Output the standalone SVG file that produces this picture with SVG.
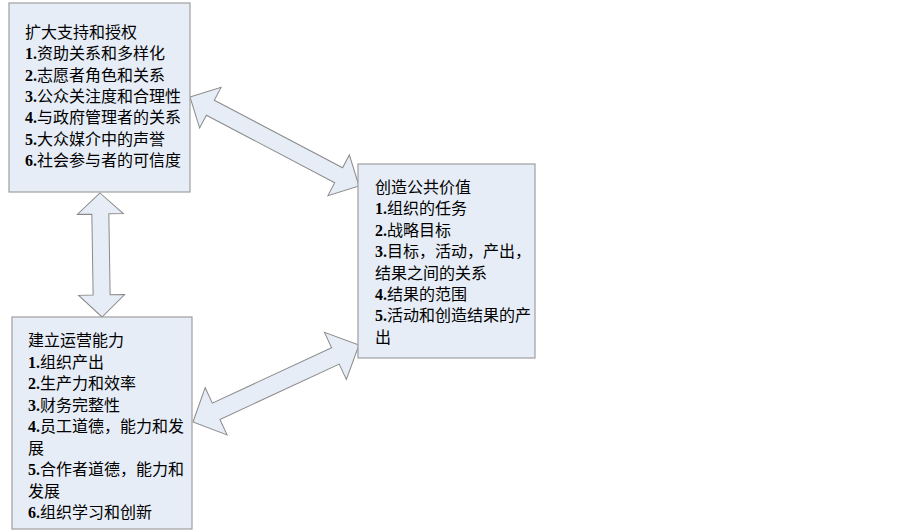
<svg xmlns="http://www.w3.org/2000/svg" width="902" height="532" viewBox="0 0 902 532">
<style>
.box{fill:#e7edf7;stroke:#9e9e9e;stroke-width:1.2}
.arr{fill:#e7edf7;stroke:#8a8a8a;stroke-width:1}
text{font-family:"Liberation Serif","Noto Sans CJK SC",serif;font-size:16px;fill:#000}
.n{font-weight:bold}
</style>
<rect width="902" height="532" fill="#ffffff"/>
<g id="connectors">
<polygon class="arr" transform="translate(190,97) rotate(27.77)" points="0,0 23,-23 23,-8.5 168,-8.5 168,-23 191,0 168,23 168,8.5 23,8.5 23,23"/>
<polygon class="arr" transform="translate(100,193) rotate(89.08)" points="0,0 21,-23 21,-8.5 102,-8.5 102,-23 124,0 102,23 102,8.5 21,8.5 21,23"/>
<polygon class="arr" transform="translate(193,422) rotate(-24.89)" points="0,0 25.5,-26 25.5,-9 157,-9 157,-26 183,0 157,26 157,9 25.5,9 25.5,26"/>
</g>
<g id="node-support">
<rect class="box" x="9" y="3" width="181" height="189"/>
<text x="25" y="38">扩大支持和授权</text>
<text x="25" y="59.3"><tspan class="n">1.</tspan>资助关系和多样化</text>
<text x="25" y="80.6"><tspan class="n">2.</tspan>志愿者角色和关系</text>
<text x="25" y="101.9"><tspan class="n">3.</tspan>公众关注度和合理性</text>
<text x="25" y="123.2"><tspan class="n">4.</tspan>与政府管理者的关系</text>
<text x="25" y="144.5"><tspan class="n">5.</tspan>大众媒介中的声誉</text>
<text x="25" y="165.8"><tspan class="n">6.</tspan>社会参与者的可信度</text>
</g>
<g id="node-value">
<rect class="box" x="358" y="164" width="177" height="194"/>
<text x="375" y="193">创造公共价值</text>
<text x="375" y="214.4"><tspan class="n">1.</tspan>组织的任务</text>
<text x="375" y="235.8"><tspan class="n">2.</tspan>战略目标</text>
<text x="375" y="257.2"><tspan class="n">3.</tspan>目标，活动，产出，</text>
<text x="375" y="278.6">结果之间的关系</text>
<text x="375" y="300"><tspan class="n">4.</tspan>结果的范围</text>
<text x="375" y="321.4"><tspan class="n">5.</tspan>活动和创造结果的产</text>
<text x="375" y="342.8">出</text>
</g>
<g id="node-capacity">
<rect class="box" x="12" y="317" width="180" height="212"/>
<text x="28" y="346">建立运营能力</text>
<text x="28" y="367.5"><tspan class="n">1.</tspan>组织产出</text>
<text x="28" y="389"><tspan class="n">2.</tspan>生产力和效率</text>
<text x="28" y="410.5"><tspan class="n">3.</tspan>财务完整性</text>
<text x="28" y="432"><tspan class="n">4.</tspan>员工道德，能力和发</text>
<text x="28" y="453.5">展</text>
<text x="28" y="475"><tspan class="n">5.</tspan>合作者道德，能力和</text>
<text x="28" y="496.5">发展</text>
<text x="28" y="518"><tspan class="n">6.</tspan>组织学习和创新</text>
</g>
</svg>
